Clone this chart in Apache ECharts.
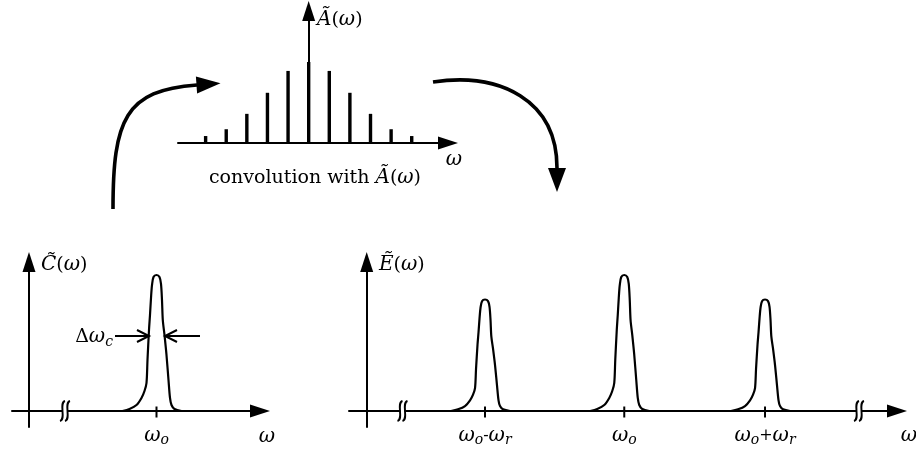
<!DOCTYPE html>
<html><head><meta charset="utf-8">
<script src="https://cdn.jsdelivr.net/npm/echarts@6/dist/echarts.min.js"></script>
<style>html,body{margin:0;padding:0;background:#fff}#c{width:916px;height:454px}</style>
</head><body><div id="c"></div>
<script>
// ---- data ----
// comb spectrum Ã(ω): stem positions (multiples of ω_r) and relative heights
const stemPositions = [-5, -4, -3, -2, -1, 0, 1, 2, 3, 4, 5];
const stemHeights = [0.086, 0.17, 0.36, 0.62, 0.89, 1.0, 0.89, 0.62, 0.36, 0.17, 0.086];
// shape of one spectral peak: offset from its centre and relative height
const peakOffsets = [-2.667, -2.118, -1.569, -1.176, -0.941, -0.784, -0.706, -0.588, -0.510, -0.431, -0.353, -0.235, 0, 0.235, 0.353, 0.431, 0.494, 0.627, 0.784, 0.941, 1.059, 1.176, 1.412, 1.961];
const peakHeights = [0, 0.015, 0.044, 0.096, 0.147, 0.206, 0.375, 0.596, 0.706, 0.831, 0.926, 0.985, 1.0, 0.985, 0.934, 0.816, 0.669, 0.559, 0.412, 0.228, 0.096, 0.044, 0.015, 0];
// C̃(ω): one peak at ω_o
const cCenters = [10];
const cAmplitudes = [1.0];
const cTickLabels = ['{i|ω}{s|o}'];
// Ẽ(ω): peaks at ω_o-ω_r, ω_o, ω_o+ω_r
const eCenters = [9.28, 20.2, 31.24];
const eAmplitudes = [0.82, 1.0, 0.82];
const eTickLabels = ['{i|ω}{s|o}{n|-}{i|ω}{s|r}', '{i|ω}{s|o}', '{i|ω}{s|o}{n|+}{i|ω}{s|r}'];

// ---- styling ----
const F = 'DejaVu Serif';
const LR = { // label rich (echarts label)
  i: {fontFamily: F, fontStyle: 'italic', fontSize: 20, lineHeight: 24, color: '#000'},
  n: {fontFamily: F, fontSize: 16, lineHeight: 24, color: '#000'},
  s: {fontFamily: F, fontStyle: 'italic', fontSize: 14, lineHeight: 12, verticalAlign: 'bottom', color: '#000'}
};
const GR = { // graphic rich (zrender)
  i: {fontFamily: F, fontStyle: 'italic', fontSize: 20, lineHeight: 24, fill: '#000'},
  n: {fontFamily: F, fontSize: 19, lineHeight: 24, fill: '#000'},
  s: {fontFamily: F, fontStyle: 'italic', fontSize: 14, lineHeight: 12, verticalAlign: 'bottom', fill: '#000'}
};

function axis(gridIndex, min, max, arrow) {
  return {
    type: 'value', gridIndex: gridIndex, min: min, max: max,
    axisLine: {show: true, onZero: true, lineStyle: {color: '#000', width: 2},
      symbol: arrow ? ['none', 'triangle'] : 'none', symbolSize: [13, 20]},
    axisTick: {show: false}, axisLabel: {show: false}, splitLine: {show: false}
  };
}

function peakSeries(center, amp, xi) {
  return {
    type: 'line', xAxisIndex: xi, yAxisIndex: xi, showSymbol: false, symbol: 'none',
    smooth: 0.3, silent: true, z: 3,
    lineStyle: {color: '#000', width: 2.2, opacity: 1},
    data: peakOffsets.map((d, k) => [center + d, amp * peakHeights[k]])
  };
}

function tickSeries(centers, labels, xi) {
  return {
    type: 'scatter', xAxisIndex: xi, yAxisIndex: xi, symbol: 'rect', symbolSize: [2, 11],
    symbolOffset: [0, 1], silent: true, z: 4, itemStyle: {color: '#000', opacity: 1},
    label: {show: true, position: 'bottom', distance: 6, color: '#000', opacity: 1, formatter: p => labels[p.dataIndex], rich: LR},
    data: centers.map(c => [c, 0])
  };
}

const series = [
  {type: 'bar', xAxisIndex: 0, yAxisIndex: 0, barWidth: 3.4, silent: true, z: 3,
   itemStyle: {color: '#000'}, data: stemPositions.map((x, k) => [x, stemHeights[k]])},
  tickSeries(cCenters, cTickLabels, 1),
  tickSeries(eCenters, eTickLabels, 2)
];
cCenters.forEach((c, k) => series.push(peakSeries(c, cAmplitudes[k], 1)));
eCenters.forEach((c, k) => series.push(peakSeries(c, eAmplitudes[k], 2)));

function txt(text, x, y, align) {
  return {type: 'text', x: x, y: y, z: 10,
    style: {text: text, rich: GR, align: align, verticalAlign: 'middle', textAlign: align, textVerticalAlign: 'middle'}};
}
function sCurve(x, y) {
  return {type: 'bezierCurve', z: 10,
    shape: {x1: x + 2.5, y1: y - 10, cpx1: x - 4, cpy1: y - 8, cpx2: x + 4, cpy2: y + 8, x2: x - 2.5, y2: y + 10},
    style: {stroke: '#000', lineWidth: 1.9, fill: null}};
}
function breakMark(x, y) {
  return [
    {type: 'rect', z: 9, shape: {x: x - 2, y: y - 3, width: 4, height: 6}, style: {fill: '#fff'}},
    sCurve(x - 2.5, y), sCurve(x + 2.5, y)
  ];
}
const line = {stroke: '#000', lineWidth: 2, fill: null};
const graphic = [
  // curved arrows
  {type: 'bezierCurve', shape: {x1: 113, y1: 209, cpx1: 113, cpy1: 120, cpx2: 125, cpy2: 90, x2: 197, y2: 85},
   style: {stroke: '#000', lineWidth: 3.6, fill: null}},
  {type: 'polygon', shape: {points: [[197.1, 93.5], [220.5, 83.3], [195.9, 76.5]]}, style: {fill: '#000'}},
  {type: 'bezierCurve', shape: {x1: 433, y1: 82, cpx1: 500, cpy1: 72, cpx2: 557, cpy2: 100, x2: 557, y2: 168},
   style: {stroke: '#000', lineWidth: 3.6, fill: null}},
  {type: 'polygon', shape: {points: [[548, 168], [566, 168], [557, 192]]}, style: {fill: '#000'}},
  // Δω_c arrows
  {type: 'polyline', shape: {points: [[115, 336], [149, 336]]}, style: line},
  {type: 'polyline', shape: {points: [[137, 330], [149, 336], [137, 342]]}, style: line},
  {type: 'polyline', shape: {points: [[200, 336], [165, 336]]}, style: line},
  {type: 'polyline', shape: {points: [[177, 330], [165, 336], [177, 342]]}, style: line},
  // labels
  txt('{i|A\u0303}{n|(}{i|ω}{n|)}', 317, 20, 'left'),
  txt('{n|convolution with }{i|A\u0303}{n|(}{i|ω}{n|)}', 315, 178, 'center'),
  txt('{i|ω}', 454, 160, 'center'),
  txt('{i|C\u0303}{n|(}{i|ω}{n|)}', 41, 265, 'left'),
  txt('{n|Δ}{i|ω}{s|c}', 113, 337, 'right'),
  txt('{i|ω}', 267, 437, 'center'),
  txt('{i|E\u0303}{n|(}{i|ω}{n|)}', 379, 265, 'left'),
  txt('{i|ω}', 909, 436, 'center')
].concat(breakMark(65, 411), breakMark(402.5, 411), breakMark(859, 411));

const chart = echarts.init(document.getElementById('c'), null, {renderer: 'canvas'});
chart.setOption({
  animation: false,
  backgroundColor: '#fff',
  grid: [
    {left: 178, right: 468, top: 11, bottom: 311, containLabel: false, outerBoundsMode: 'none'},
    {left: 12, right: 656, top: 262, bottom: 27, containLabel: false, outerBoundsMode: 'none'},
    {left: 349, right: 19, top: 262, bottom: 27, containLabel: false, outerBoundsMode: 'none'}
  ],
  xAxis: [axis(0, -6.34, 6.76, true), axis(1, -1.333, 18.118, true), axis(2, -1.388, 41.59, true)],
  yAxis: [axis(0, 0, 1.63, true), axis(1, -0.1176, 1.0956, true), axis(2, -0.1176, 1.0956, true)],
  series: series,
  graphic: graphic
});
</script></body></html>
